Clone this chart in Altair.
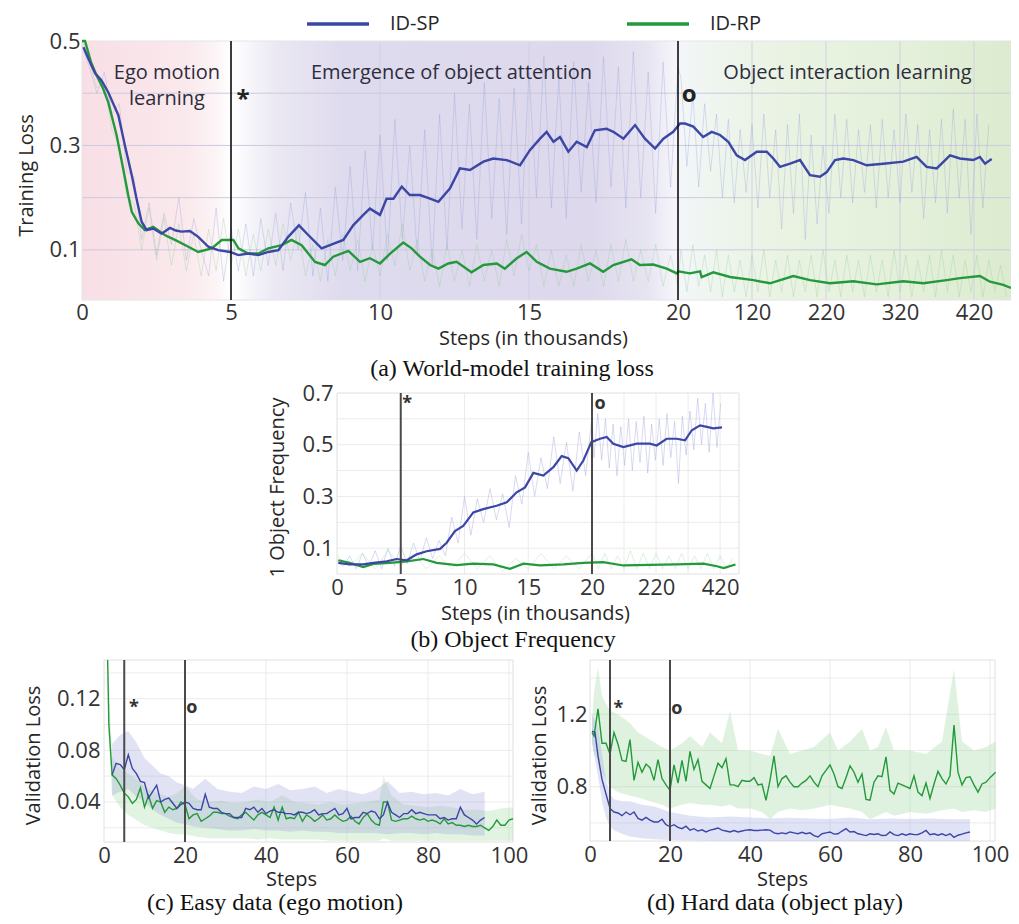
import altair as alt
import pandas as pd

# ------------------------------------------------------------------ data
SERIES = ["ID-SP", "ID-RP"]
PHASE_STEPS = [5, 20]
MARKER_TEXT = ["*", "o"]

# (a) World-model training loss  (steps in thousands)
A_XTICKS = [0, 5, 10, 15, 20, 120, 220, 320, 420]
A_YTICKS = [0.1, 0.3, 0.5]
A_YGRID = [0.1, 0.2, 0.3, 0.4]
A_XGRID = [5, 10, 15, 120, 220, 320, 420]
A_SP_S = [0.05, 0.2, 0.44, 0.65, 0.88, 1.05, 1.22, 1.44, 1.67, 1.83,
          2.0, 2.17, 2.39, 2.67, 2.95, 3.15, 3.34, 3.62, 3.9, 4.24,
          4.57, 4.97, 5.25, 5.58, 5.92, 6.25, 6.59, 6.92, 7.28, 7.6,
          8.04, 8.32, 8.77, 9.1, 9.44, 9.66, 10.0, 10.22, 10.45, 10.73,
          11.0, 11.34, 11.68, 11.96, 12.35, 12.68, 13.02, 13.47, 13.8, 14.25,
          14.7, 15.03, 15.37, 15.59, 15.82, 16.04, 16.32, 16.6, 16.94, 17.21,
          17.6, 17.83, 18.17, 18.56, 18.89, 19.23, 19.51, 19.84, 22.7, 29.5,
          40.7, 54, 65.5, 76.8, 88, 99.3, 110.5, 126.4, 139.9, 148.8,
          157.8, 171.4, 184.9, 198.4, 211.9, 221, 232.2, 243.4, 256.9, 275,
          297.4, 324.5, 342.5, 356, 369.6, 387.6, 401, 419, 428, 434.9, 443.9]
A_SP_V = [0.488, 0.468, 0.438, 0.425, 0.402, 0.38, 0.358, 0.30, 0.243, 0.198,
          0.154, 0.138, 0.141, 0.131, 0.142, 0.137, 0.135, 0.136, 0.125, 0.106,
          0.0995, 0.096, 0.09, 0.093, 0.09, 0.096, 0.0995, 0.125, 0.147, 0.128,
          0.103, 0.109, 0.119, 0.147, 0.167, 0.179, 0.167, 0.198, 0.198, 0.221,
          0.205, 0.205, 0.198, 0.192, 0.218, 0.256, 0.253, 0.269, 0.275, 0.272,
          0.262, 0.291, 0.313, 0.326, 0.307, 0.316, 0.288, 0.307, 0.297, 0.329,
          0.332, 0.326, 0.313, 0.339, 0.313, 0.294, 0.313, 0.326, 0.342, 0.342,
          0.336, 0.316, 0.326, 0.32, 0.307, 0.281, 0.272, 0.288, 0.288, 0.275,
          0.259, 0.265, 0.272, 0.243, 0.240, 0.249, 0.272, 0.275, 0.272, 0.262,
          0.265, 0.269, 0.278, 0.259, 0.256, 0.281, 0.275, 0.272, 0.278, 0.265, 0.274]
A_RP_S = [0.0, 0.1, 0.3, 0.49, 0.7, 0.88, 1.16, 1.38, 1.55, 1.67,
          1.89, 2.11, 2.39, 2.79, 3.12, 3.57, 3.9, 4.35, 4.69, 5.08,
          5.25, 5.58, 5.92, 6.25, 6.7, 7.03, 7.37, 7.82, 8.15, 8.43,
          8.94, 9.33, 9.66, 10.0, 10.34, 10.78, 11.06, 11.34, 11.68, 11.96,
          12.29, 12.57, 13.07, 13.47, 13.92, 14.19, 14.59, 14.92, 15.26, 15.7,
          16.26, 16.6, 17.05, 17.49, 17.83, 18.44, 18.72, 19.17, 19.62, 19.96,
          20.4, 36, 49.7, 52, 67.7, 90.3, 121.8, 144.3, 175.8, 198.4,
          225.4, 256.9, 288.5, 324.5, 351.5, 383, 401, 428, 441.6, 459.6, 470]
A_RP_V = [0.5, 0.5, 0.46, 0.434, 0.41, 0.383, 0.32, 0.256, 0.205, 0.173,
          0.151, 0.138, 0.144, 0.128, 0.119, 0.106, 0.096, 0.103, 0.119, 0.119,
          0.103, 0.093, 0.093, 0.103, 0.109, 0.119, 0.109, 0.077, 0.071, 0.087,
          0.098, 0.077, 0.084, 0.074, 0.093, 0.114, 0.103, 0.087, 0.071, 0.064,
          0.074, 0.077, 0.057, 0.071, 0.074, 0.064, 0.084, 0.096, 0.077, 0.064,
          0.058, 0.064, 0.074, 0.058, 0.071, 0.082, 0.071, 0.072, 0.064, 0.055,
          0.059, 0.055, 0.059, 0.048, 0.057, 0.048, 0.042, 0.036, 0.050, 0.042,
          0.036, 0.040, 0.034, 0.040, 0.036, 0.042, 0.046, 0.050, 0.039, 0.033, 0.027]
A_RAW_S1 = [i * 0.25 for i in range(81)]
A_SP_RAW_S = A_RAW_S1 + list(range(24, 441, 8))
A_SP_RAW_V = [0.49, 0.45, 0.40, 0.44, 0.36, 0.38, 0.25, 0.24, 0.12, 0.19,
              0.09, 0.17, 0.11, 0.20, 0.08, 0.16, 0.10, 0.05, 0.18, 0.04,
              0.14, 0.06, 0.15, 0.05, 0.16, 0.07, 0.17, 0.06, 0.19, 0.10,
              0.21, 0.05, 0.18, 0.04, 0.22, 0.08, 0.26, 0.06, 0.29, 0.10,
              0.32, 0.08, 0.35, 0.12, 0.30, 0.09, 0.33, 0.07, 0.36, 0.10,
              0.40, 0.14, 0.38, 0.12, 0.42, 0.16, 0.39, 0.13, 0.41, 0.15,
              0.44, 0.20, 0.47, 0.18, 0.43, 0.16, 0.46, 0.21, 0.42, 0.19,
              0.47, 0.22, 0.45, 0.18, 0.48, 0.20, 0.44, 0.17, 0.46, 0.22, 0.45,
              0.43, 0.26, 0.40, 0.22, 0.38, 0.25, 0.36, 0.20, 0.35, 0.19,
              0.33, 0.21, 0.34, 0.18, 0.36, 0.20, 0.33, 0.14, 0.34, 0.17,
              0.36, 0.12, 0.32, 0.15, 0.30, 0.17, 0.36, 0.20, 0.35, 0.19,
              0.33, 0.21, 0.34, 0.18, 0.35, 0.20, 0.33, 0.19, 0.36, 0.21,
              0.34, 0.16, 0.33, 0.19, 0.35, 0.17, 0.37, 0.20, 0.35, 0.13,
              0.36, 0.18, 0.34]
A_RP_RAW_S = A_RAW_S1 + list(range(24, 465, 8))
A_RP_RAW_V = [0.50, 0.46, 0.41, 0.42, 0.33, 0.30, 0.20, 0.19, 0.10,
              0.18, 0.08, 0.16, 0.07, 0.15, 0.06, 0.13, 0.05,
              0.14, 0.06, 0.16, 0.07, 0.14, 0.05, 0.13, 0.06,
              0.14, 0.07, 0.15, 0.08, 0.14, 0.05, 0.11, 0.04,
              0.12, 0.05, 0.13, 0.06, 0.12, 0.04, 0.11, 0.05,
              0.13, 0.07, 0.15, 0.06, 0.12, 0.04, 0.10, 0.03,
              0.11, 0.04, 0.10, 0.03, 0.11, 0.04, 0.10, 0.03,
              0.12, 0.05, 0.13, 0.06, 0.11, 0.03, 0.10, 0.03,
              0.09, 0.03, 0.11, 0.04, 0.10, 0.03, 0.11, 0.04,
              0.12, 0.04, 0.10, 0.04, 0.11, 0.03, 0.09, 0.03,
              0.10, 0.02, 0.11, 0.03, 0.09, 0.02, 0.10, 0.01, 0.09, 0.02,
              0.08, 0.01, 0.09, 0.02, 0.10, 0.01, 0.08, 0.02, 0.09, 0.01,
              0.08, 0.02, 0.09, 0.01, 0.10, 0.02, 0.08, 0.01, 0.09, 0.02,
              0.08, 0.01, 0.09, 0.02, 0.08, 0.01, 0.10, 0.02, 0.09, 0.01,
              0.08, 0.02, 0.09, 0.01, 0.10, 0.02, 0.09, 0.01, 0.08, 0.02,
              0.09, 0.01, 0.08, 0.02, 0.07, 0.01]
A_PHASE_START = [0, 5, 20]
A_PHASE_END = [5, 20, 470]
A_PHASE_LABELS = ["Ego motion", "learning", "Emergence of object attention",
                  "Object interaction learning"]
A_PHASE_LABEL_S = [2.85, 2.85, 12.4, 249]
A_PHASE_LABEL_V = [0.438, 0.389, 0.438, 0.438]
A_MARK_S = [5.4, 35]
A_MARK_V = [0.387, 0.397]

# (b) Object frequency
B_XTICKS = [0, 5, 10, 15, 20, 220, 420]
B_YTICKS = [0.1, 0.3, 0.5, 0.7]
B_YGRID = [0.1, 0.2, 0.3, 0.4, 0.5, 0.6]
B_XGRID = [5, 10, 15, 120, 220, 320, 420]
B_SP_S = [0.1, 1.0, 2.06, 2.85, 3.9, 4.68, 5.47, 6.25, 7.03, 8.08,
          8.6, 9.25, 9.9, 10.69, 11.47, 12.52, 13.31, 14.09, 14.75, 15.4,
          16.18, 16.97, 17.62, 18.14, 18.8, 19.32, 19.95, 45, 66, 86.5,
          118, 159.6, 201, 222, 253, 284.7, 310.6, 331.6, 357.5, 378.4, 399, 426]
B_SP_V = [0.043, 0.037, 0.037, 0.043, 0.049, 0.058, 0.053, 0.076, 0.088, 0.097,
          0.121, 0.166, 0.186, 0.238, 0.251, 0.264, 0.277, 0.316, 0.335, 0.391,
          0.381, 0.413, 0.456, 0.448, 0.40, 0.439, 0.51, 0.523, 0.530, 0.504,
          0.491, 0.504, 0.504, 0.497, 0.523, 0.523, 0.517, 0.556, 0.575, 0.569, 0.563, 0.567]
B_RP_S = [0.1, 1.0, 2.06, 2.85, 4.16, 5.47, 6.77, 7.82, 9.39, 10.69, 12.26, 13.57,
          14.62, 15.92, 17.75, 19.32, 55, 118, 201, 285, 368, 410, 431, 468]
B_RP_V = [0.053, 0.043, 0.027, 0.039, 0.043, 0.049, 0.058, 0.043, 0.034, 0.040, 0.037, 0.020,
          0.040, 0.033, 0.037, 0.043, 0.046, 0.033, 0.035, 0.037, 0.040, 0.030, 0.023, 0.037]
B_SP_RAW_S = [i * 0.5 for i in range(41)] + list(range(26, 423, 12))
B_SP_RAW_V = [0.05, 0.03, 0.07, 0.02, 0.08, 0.03, 0.09, 0.02, 0.10, 0.03,
              0.11, 0.04, 0.12, 0.05, 0.14, 0.06, 0.13, 0.07, 0.22, 0.12,
              0.30, 0.15, 0.29, 0.20, 0.33, 0.21, 0.31, 0.18, 0.38, 0.27,
              0.47, 0.30, 0.45, 0.33, 0.53, 0.35, 0.51, 0.32, 0.55, 0.38, 0.61,
              0.45, 0.62, 0.44, 0.60, 0.41, 0.58, 0.38, 0.57, 0.42, 0.60,
              0.40, 0.59, 0.43, 0.61, 0.39, 0.58, 0.44, 0.60, 0.42, 0.62,
              0.45, 0.59, 0.35, 0.61, 0.46, 0.63, 0.48, 0.68, 0.50, 0.66,
              0.47, 0.70, 0.49, 0.66]
B_RP_RAW_S = list(range(0, 21)) + list(range(40, 461, 20))
B_RP_RAW_V = [0.07, 0.03, 0.08, 0.02, 0.09, 0.03, 0.08, 0.02, 0.07, 0.02, 0.08,
              0.02, 0.07, 0.01, 0.06, 0.02, 0.08, 0.02, 0.07, 0.02, 0.08,
              0.02, 0.08, 0.02, 0.07, 0.02, 0.09, 0.02, 0.08, 0.02, 0.08, 0.02,
              0.07, 0.02, 0.08, 0.02, 0.07, 0.02, 0.08, 0.02, 0.07, 0.02, 0.06]
B_MARK_S = [5.5, 45]
B_MARK_V = [0.657, 0.657]

# (c) Easy data (ego motion)
C_XTICKS = [0, 20, 40, 60, 80, 100]
C_YTICKS = [0.04, 0.08, 0.12]
C_YGRID = [0.02, 0.04, 0.06, 0.08, 0.10, 0.12, 0.14]
C_XGRID = [20, 40, 60, 80, 100]
C_RP_S = [0.9, 1.2] + list(range(2, 102))
C_RP_V = [0.15, 0.10,
          0.061, 0.058, 0.053, 0.047, 0.044, 0.039, 0.042, 0.051, 0.036, 0.045,
          0.035, 0.041, 0.040, 0.032, 0.036, 0.034, 0.035, 0.040, 0.038, 0.027,
          0.030, 0.031, 0.025, 0.027, 0.029, 0.032, 0.032, 0.031, 0.031, 0.029,
          0.028, 0.027, 0.030, 0.032, 0.029, 0.026, 0.030, 0.032, 0.030, 0.028,
          0.036, 0.026, 0.036, 0.027, 0.028, 0.027, 0.032, 0.025, 0.030, 0.028,
          0.025, 0.027, 0.030, 0.026, 0.027, 0.030, 0.027, 0.025, 0.026, 0.029,
          0.025, 0.023, 0.028, 0.031, 0.026, 0.023, 0.022, 0.040, 0.040, 0.026,
          0.025, 0.026, 0.027, 0.027, 0.029, 0.027, 0.026, 0.027, 0.025, 0.026,
          0.025, 0.023, 0.027, 0.023, 0.024, 0.022, 0.022, 0.021, 0.022, 0.021,
          0.021, 0.022, 0.020, 0.018, 0.021, 0.026, 0.022, 0.022, 0.026, 0.027]
C_SP_S = list(range(2, 95))
C_SP_V = [0.061, 0.070, 0.069, 0.065, 0.0765, 0.066, 0.062, 0.056, 0.055, 0.043,
          0.048, 0.053, 0.040, 0.042, 0.043, 0.039, 0.035, 0.038, 0.040, 0.039,
          0.035, 0.034, 0.034, 0.046, 0.036, 0.035, 0.035, 0.032, 0.031, 0.031,
          0.028, 0.028, 0.028, 0.035, 0.034, 0.036, 0.032, 0.035, 0.031, 0.033,
          0.034, 0.032, 0.032, 0.031, 0.031, 0.030, 0.032, 0.032, 0.031, 0.032,
          0.034, 0.030, 0.031, 0.031, 0.033, 0.035, 0.030, 0.031, 0.035, 0.027,
          0.028, 0.028, 0.032, 0.031, 0.033, 0.032, 0.027, 0.030, 0.040, 0.032,
          0.030, 0.028, 0.031, 0.031, 0.034, 0.031, 0.032, 0.031, 0.030, 0.030,
          0.030, 0.027, 0.028, 0.026, 0.027, 0.027, 0.036, 0.030, 0.028, 0.026,
          0.023, 0.026, 0.028]
C_SP_BAND_S = [2, 4, 6, 8, 10, 12, 14, 16, 18, 20] + list(range(22, 95, 3))
C_SP_BAND_HI = [0.085, 0.092, 0.095, 0.086, 0.074, 0.068, 0.062, 0.060, 0.055, 0.053,
                0.050, 0.058, 0.050, 0.048, 0.047, 0.052, 0.050, 0.054, 0.049, 0.050,
                0.052, 0.047, 0.050, 0.048, 0.046, 0.049, 0.056, 0.047, 0.048, 0.046,
                0.047, 0.045, 0.050, 0.046, 0.048]
C_SP_BAND_LO = [0.045, 0.048, 0.050, 0.044, 0.040, 0.034, 0.030, 0.027, 0.024, 0.023,
                0.021, 0.020, 0.019, 0.018, 0.018, 0.019, 0.018, 0.018, 0.017, 0.018,
                0.017, 0.017, 0.016, 0.016, 0.016, 0.016, 0.015, 0.016, 0.016, 0.015,
                0.016, 0.015, 0.015, 0.014, 0.014]
C_RP_BAND_S = [1, 2, 4, 6, 8, 10, 12, 14, 16, 18, 20] + list(range(23, 69, 3)) + [69, 71] + list(range(74, 102, 3))
C_RP_BAND_HI = [0.15, 0.075, 0.066, 0.062, 0.058, 0.052, 0.048, 0.046, 0.044, 0.047,
                0.052, 0.042, 0.040, 0.041, 0.039, 0.040, 0.042, 0.040, 0.045, 0.040,
                0.039, 0.038, 0.040, 0.038, 0.039, 0.040, 0.042, 0.060, 0.045, 0.038,
                0.037, 0.036, 0.037, 0.036, 0.034, 0.034, 0.033, 0.035, 0.036]
C_RP_BAND_LO = [0.10, 0.045, 0.036, 0.030, 0.026, 0.022, 0.020, 0.018, 0.016, 0.015,
                0.015, 0.013, 0.012, 0.012, 0.012, 0.012, 0.011, 0.012, 0.011, 0.011,
                0.011, 0.011, 0.010, 0.010, 0.010, 0.010, 0.010, 0.012, 0.010, 0.010,
                0.010, 0.010, 0.010, 0.010, 0.010, 0.010, 0.010, 0.010, 0.010]
C_MARK_S = [7.4, 21.7]
C_MARK_V = [0.113, 0.113]

# (d) Hard data (object play)
D_XTICKS = [0, 20, 40, 60, 80, 100]
D_YTICKS = [0.8, 1.2]
D_YGRID = [0.6, 0.8, 1.0, 1.2, 1.4]
D_XGRID = [20, 40, 60, 80, 100]
D_RP_S = [0.5] + list(range(1, 101)) + [101.4]
D_RP_V = [1.10,
          1.08, 1.23, 1.04, 1.04, 0.98, 1.10, 1.035, 0.945, 0.94, 1.06,
          0.835, 0.935, 0.88, 0.925, 0.905, 0.835, 0.95, 0.845, 0.81, 0.78,
          0.92, 0.82, 0.945, 0.83, 0.995, 0.895, 0.95, 0.83, 0.81, 0.79,
          0.86, 0.93, 0.905, 0.955, 0.81, 0.81, 0.80, 0.835, 0.83, 0.83,
          0.85, 0.81, 0.815, 0.725, 0.835, 0.97, 0.80, 0.845, 0.86, 0.825,
          0.80, 0.80, 0.82, 0.835, 0.86, 0.825, 0.80, 0.86, 0.89, 0.92,
          0.87, 0.80, 0.79, 0.85, 0.915, 0.88, 0.825, 0.87, 0.73, 0.725,
          0.825, 0.86, 0.855, 0.965, 0.78, 0.76, 0.82, 0.81, 0.80, 0.79,
          0.86, 0.77, 0.75, 0.82, 0.735, 0.815, 0.885, 0.845, 0.815, 0.86,
          1.14, 0.88, 0.81, 0.85, 0.855, 0.81, 0.77, 0.815, 0.825, 0.85,
          0.88]
D_SP_S = [0.5, 1.25] + list(range(2, 96))
D_SP_V = [1.107, 1.10,
          0.97, 0.84, 0.76, 0.68, 0.66, 0.655, 0.64, 0.66, 0.645, 0.66,
          0.625, 0.615, 0.63, 0.615, 0.605, 0.605, 0.62, 0.59, 0.58, 0.59,
          0.575, 0.568, 0.582, 0.56, 0.568, 0.555, 0.562, 0.55, 0.56, 0.565,
          0.572, 0.56, 0.555, 0.55, 0.558, 0.55, 0.555, 0.56, 0.562, 0.558,
          0.558, 0.56, 0.562, 0.56, 0.545, 0.54, 0.545, 0.54, 0.55, 0.545,
          0.54, 0.548, 0.54, 0.545, 0.53, 0.522, 0.54, 0.545, 0.55, 0.538,
          0.54, 0.555, 0.568, 0.55, 0.552, 0.54, 0.535, 0.53, 0.54, 0.536,
          0.54, 0.53, 0.532, 0.55, 0.535, 0.53, 0.54, 0.532, 0.54, 0.535,
          0.536, 0.545, 0.558, 0.535, 0.54, 0.532, 0.54, 0.53, 0.54, 0.52,
          0.532, 0.538, 0.545, 0.55]
D_SP_BAND_S = [0.5, 2, 3, 4, 5, 6, 8, 10, 13, 16, 20, 25, 30, 35, 40, 45, 50, 55,
               60, 65, 70, 75, 80, 85, 90, 95]
D_SP_BAND_HI = [1.20, 1.13, 0.98, 0.84, 0.76, 0.73, 0.72, 0.72, 0.70, 0.69,
                0.66, 0.64, 0.63, 0.635, 0.63, 0.625, 0.628, 0.625, 0.622, 0.63,
                0.62, 0.625, 0.622, 0.625, 0.62, 0.62]
D_SP_BAND_LO = [1.04, 0.86, 0.72, 0.63, 0.58, 0.56, 0.54, 0.525, 0.515, 0.51,
                0.505, 0.503, 0.502, 0.501, 0.50, 0.50, 0.50, 0.50, 0.50, 0.50,
                0.50, 0.50, 0.50, 0.50, 0.50, 0.50]
D_RP_BAND_S = [0.5, 1, 2, 3, 5, 7, 10, 12, 15, 18, 20, 23, 25, 28, 30, 33, 35, 37,
               40, 43, 45, 47, 50, 53, 56, 60, 62, 65, 68, 70, 72, 74, 76, 80, 84,
               88, 91, 93, 96, 99, 101.4]
D_RP_BAND_HI = [1.15, 1.32, 1.46, 1.30, 1.22, 1.20, 1.15, 1.10, 1.06, 1.02,
                1.00, 1.04, 1.08, 1.02, 1.10, 1.04, 1.22, 1.00, 1.00, 0.98,
                0.97, 1.12, 0.98, 1.00, 1.02, 1.10, 1.00, 1.05, 1.12, 1.00,
                1.02, 1.13, 1.00, 1.00, 0.98, 1.05, 1.45, 1.05, 1.00, 1.02, 1.05]
D_RP_BAND_LO = [1.05, 0.98, 0.95, 0.88, 0.80, 0.77, 0.75, 0.74, 0.72, 0.70,
                0.68, 0.70, 0.71, 0.70, 0.70, 0.69, 0.70, 0.68, 0.68, 0.66,
                0.62, 0.66, 0.68, 0.67, 0.68, 0.70, 0.69, 0.68, 0.66, 0.62,
                0.64, 0.66, 0.64, 0.66, 0.65, 0.67, 0.68, 0.66, 0.67, 0.66, 0.68]
D_MARK_S = [7.1, 21.7]
D_MARK_V = [1.229, 1.229]

CAPTIONS = ["(a) World-model training loss", "(b) Object Frequency",
            "(c) Easy data (ego motion)", "(d) Hard data (object play)"]

# ------------------------------------------------------------------ style
BLUE = "#3b46a6"
GREEN = "#24993b"
FONT = "Open Sans"
SERIF = "Liberation Serif"
TXT = "#262626"

COLOR = alt.Color(
    "series:N",
    scale=alt.Scale(domain=SERIES, range=[BLUE, GREEN]),
    legend=alt.Legend(title=None, orient="none", legendX=223, legendY=-50,
                      direction="horizontal", symbolType="stroke", symbolSize=3844,
                      symbolStrokeWidth=3.5, labelFont=FONT, labelFontSize=20,
                      labelColor=TXT, labelOffset=19, columnPadding=180, padding=0),
)


def line_df(s, v, name=None):
    d = pd.DataFrame({"s": s, "v": v})
    if name is not None:
        d["series"] = name
    return d


def band_df(s, lo, hi):
    return pd.DataFrame({"s": s, "lo": lo, "hi": hi})


class Panel:
    def __init__(self, xdom, xrange, ydom, yrange, xax, yax):
        self.xs = alt.Scale(domain=xdom, range=xrange, nice=False, zero=False)
        self.ys = alt.Scale(domain=ydom, range=yrange, nice=False, zero=False)
        self.xax, self.yax = xax, yax
        self.x0, self.x1 = xdom[0], xdom[-1]
        self.y0, self.y1 = ydom[0], ydom[-1]

    def X(self, f):
        return alt.X(f, type="quantitative", scale=self.xs, axis=self.xax)

    def Y(self, f):
        return alt.Y(f, type="quantitative", scale=self.ys, axis=self.yax)

    def XD(self, v):
        return alt.XDatum(datum=v, type="quantitative", scale=self.xs, axis=self.xax)

    def YD(self, v):
        return alt.YDatum(datum=v, type="quantitative", scale=self.ys, axis=self.yax)

    def frame(self, color="#e0e0e0"):
        return alt.Chart(pd.DataFrame({"k": [0]})).mark_rect(
            fillOpacity=0, stroke=color, strokeWidth=1).encode(
            x=self.XD(self.x0), x2=alt.X2Datum(datum=self.x1),
            y=self.YD(self.y0), y2=alt.Y2Datum(datum=self.y1))

    def hgrid(self, vals, color, width=1):
        return alt.Chart(pd.DataFrame({"g": vals})).mark_rule(
            color=color, strokeWidth=width).encode(
            y=self.Y("g"), x=self.XD(self.x0), x2=alt.X2Datum(datum=self.x1))

    def vgrid(self, vals, color, width=1):
        return alt.Chart(pd.DataFrame({"g": vals})).mark_rule(
            color=color, strokeWidth=width).encode(
            x=self.X("g"), y=self.YD(self.y0), y2=alt.Y2Datum(datum=self.y1))

    def line(self, df, width, color=None, opacity=1.0):
        if color is None:
            return alt.Chart(df).mark_line(strokeWidth=width, opacity=opacity).encode(
                x=self.X("s"), y=self.Y("v"), color=COLOR)
        return alt.Chart(df).mark_line(strokeWidth=width, color=color, opacity=opacity).encode(
            x=self.X("s"), y=self.Y("v"))

    def band(self, df, color, opacity):
        return alt.Chart(df).mark_area(color=color, opacity=opacity).encode(
            x=self.X("s"), y=self.Y("lo"), y2=alt.Y2("hi"))

    def markers(self, s, v, size, color):
        d = pd.DataFrame({"m": MARKER_TEXT, "s": s, "v": v})
        return alt.Chart(d).mark_text(font=FONT, fontSize=size, color=color,
                                      fontWeight="bold", align="center",
                                      baseline="middle").encode(
            x=self.X("s"), y=self.Y("v"), text="m:N")


def xaxis(vals, offset, title, tx, ty, pad=3):
    return alt.Axis(orient="bottom", offset=offset, values=vals, format="d",
                    labelPadding=pad, title=title, titleX=tx, titleY=ty,
                    titleBaseline="top", titleAlign="center")


def yaxis(vals, fmt, offset, title, tx, ty, pad):
    return alt.Axis(orient="left", offset=offset, values=vals, format=fmt,
                    labelPadding=pad, title=title, titleX=tx, titleY=ty,
                    titleAngle=270, titleBaseline="bottom", titleAlign="center")


# ------------------------------------------------------------------ panel (a)
PA = Panel([0, 20, 470], [0, 596, 929], [0.004, 0.5], [259, 0],
           xaxis(A_XTICKS, -542, "Steps (in thousands)", 451, 28, 2),
           yaxis(A_YTICKS, ".1f", 0, "Training Loss", -46, 134, 2))


def grad_rect(start, end, stops):
    d = pd.DataFrame({"s0": [start], "s1": [end]})
    g = alt.Gradient(gradient="linear", x1=0, x2=1, y1=0, y2=0,
                     stops=[alt.GradientStop(color=c, offset=o) for o, c in stops])
    return alt.Chart(d).mark_rect(fill=g).encode(
        x=PA.X("s0"), x2=alt.X2("s1"), y=PA.YD(PA.y0), y2=alt.Y2Datum(datum=PA.y1))


bg_pink = grad_rect(A_PHASE_START[0], A_PHASE_END[0],
                    [(0, "#f8dfe5"), (0.7, "#fae9ec"), (0.9, "#fcf4f6"), (1, "#ffffff")])
bg_purple = grad_rect(A_PHASE_START[1], A_PHASE_END[1],
                      [(0, "#ffffff"), (0.1, "#ebe8f3"), (0.25, "#dfdbee"), (0.8, "#ddd8ec"),
                       (0.93, "#e7e4f1"), (1, "#f7f7fb")])
bg_green = grad_rect(A_PHASE_START[2], A_PHASE_END[2],
                     [(0, "#f3f6fa"), (0.12, "#eef5ee"), (0.3, "#eaf3e3"), (0.7, "#e4f0da"),
                      (1, "#dcebcf")])

phase_text = alt.Chart(pd.DataFrame({"t": A_PHASE_LABELS, "s": A_PHASE_LABEL_S,
                                     "v": A_PHASE_LABEL_V})).mark_text(
    font=FONT, fontSize=20, color="#2d2d3c", align="center", baseline="middle").encode(
    x=PA.X("s"), y=PA.Y("v"), text="t:N")

phase_rules_a = alt.Chart(pd.DataFrame({"p": PHASE_STEPS})).mark_rule(
    color="#111111", strokeWidth=1.6).encode(
    x=PA.X("p"), y=PA.YD(PA.y0), y2=alt.Y2Datum(datum=PA.y1))

panel_a = alt.layer(
    bg_pink, bg_purple, bg_green,
    PA.hgrid(A_YGRID, "#cdc9de", 1), PA.vgrid(A_XGRID, "#d3d0e2", 1),
    PA.frame("#e4e4ea"),
    PA.line(line_df(A_SP_RAW_S, A_SP_RAW_V), 1, "#8c9ad6", 0.3),
    PA.line(line_df(A_RP_RAW_S, A_RP_RAW_V), 1, "#86c98c", 0.28),
    PA.line(line_df(A_RP_S, A_RP_V, "ID-RP"), 2.4),
    PA.line(line_df(A_SP_S, A_SP_V, "ID-SP"), 2.4),
    phase_rules_a, phase_text,
    PA.markers(A_MARK_S, A_MARK_V, 24, "#222222"),
)

# ------------------------------------------------------------------ panel (b)
PB = Panel([0, 20, 479], [255, 510, 657], [0, 0.7], [533, 352],
           xaxis(B_XTICKS, -268, "Steps (in thousands)", 453, 29),
           yaxis(B_YTICKS, ".1f", -255, "1 Object Frequency", -50, 446, 4))

phase_rules_b = alt.Chart(pd.DataFrame({"p": PHASE_STEPS})).mark_rule(
    color="#4a4a4a", strokeWidth=2).encode(
    x=PB.X("p"), y=PB.YD(PB.y0), y2=alt.Y2Datum(datum=PB.y1))

panel_b = alt.layer(
    PB.hgrid(B_YGRID, "#ebebeb"), PB.vgrid(B_XGRID, "#ebebeb"), PB.frame(),
    PB.line(line_df(B_SP_RAW_S, B_SP_RAW_V), 1, "#a9aee0", 0.45),
    PB.line(line_df(B_RP_RAW_S, B_RP_RAW_V), 1, "#9fd89f", 0.35),
    PB.line(line_df(B_RP_S, B_RP_V, "ID-RP"), 2.2),
    PB.line(line_df(B_SP_S, B_SP_V, "ID-SP"), 2.2),
    phase_rules_b,
    PB.markers(B_MARK_S, B_MARK_V, 18, "#333333"),
)

# ------------------------------------------------------------------ panel (c)
PC = Panel([0, 101], [22, 431], [0.009, 0.15], [801, 619],
           xaxis(C_XTICKS, 0, "Steps", 209, 27),
           yaxis(C_YTICKS, ".2f", -22, "Validation Loss", -61, 714, 4))

phase_rules_c = alt.Chart(pd.DataFrame({"p": PHASE_STEPS})).mark_rule(
    color="#4a4a4a", strokeWidth=2).encode(
    x=PC.X("p"), y=PC.YD(PC.y0), y2=alt.Y2Datum(datum=PC.y1))

panel_c = alt.layer(
    PC.hgrid(C_YGRID, "#ebebeb"), PC.vgrid(C_XGRID, "#ebebeb"), PC.frame(),
    PC.band(band_df(C_RP_BAND_S, C_RP_BAND_LO, C_RP_BAND_HI), "#9dd69d", 0.3),
    PC.band(band_df(C_SP_BAND_S, C_SP_BAND_LO, C_SP_BAND_HI), "#9aa0dc", 0.3),
    PC.line(line_df(C_RP_S, C_RP_V, "ID-RP"), 1.4),
    PC.line(line_df(C_SP_S, C_SP_V, "ID-SP"), 1.4),
    phase_rules_c,
    PC.markers(C_MARK_S, C_MARK_V, 18, "#333333"),
)

# ------------------------------------------------------------------ panel (d)
PD = Panel([0, 101.25], [508, 913], [0.5, 1.5], [800, 619],
           xaxis(D_XTICKS, -1, "Steps", 700, 28),
           yaxis(D_YTICKS, ".1f", -508, "Validation Loss", -41, 714, 3))

phase_rules_d = alt.Chart(pd.DataFrame({"p": PHASE_STEPS})).mark_rule(
    color="#4a4a4a", strokeWidth=2).encode(
    x=PD.X("p"), y=PD.YD(PD.y0), y2=alt.Y2Datum(datum=PD.y1))

panel_d = alt.layer(
    PD.hgrid(D_YGRID, "#ebebeb"), PD.vgrid(D_XGRID, "#ebebeb"), PD.frame(),
    PD.band(band_df(D_RP_BAND_S, D_RP_BAND_LO, D_RP_BAND_HI), "#a3dba3", 0.35),
    PD.band(band_df(D_SP_BAND_S, D_SP_BAND_LO, D_SP_BAND_HI), "#a6abe2", 0.35),
    PD.line(line_df(D_RP_S, D_RP_V, "ID-RP"), 1.4),
    PD.line(line_df(D_SP_S, D_SP_V, "ID-SP"), 1.4),
    phase_rules_d,
    PD.markers(D_MARK_S, D_MARK_V, 18, "#333333"),
)


# ------------------------------------------------------------------ captions
def caption(i, px, py, baseline="middle"):
    return alt.Chart(pd.DataFrame({"c": [CAPTIONS[i]]})).mark_text(
        font=SERIF, fontSize=24, color="#111111", align="center", baseline=baseline).encode(
        text="c:N", x=alt.value(px), y=alt.value(py))


chart = alt.layer(
    panel_a, panel_b, panel_c, panel_d,
    caption(0, 430, 328), caption(1, 431, 599),
    caption(2, 193, 869, "alphabetic"), caption(3, 693, 869, "alphabetic"),
).resolve_scale(
    x="independent", y="independent"
).properties(
    width=929, height=801,
    autosize=alt.AutoSizeParams(type="none"),
    padding={"left": 74, "top": 33, "right": 0, "bottom": 76},
    background="white",
).configure_view(
    stroke="transparent"
).configure_axis(
    grid=False, ticks=False, domain=False, labelFlush=False,
    labelFont=FONT, labelFontSize=22, labelColor="#333333",
    titleFont=FONT, titleFontSize=20, titleFontWeight="normal", titleColor=TXT,
)

chart.save("out.html", embed_options={"renderer": "svg", "actions": False})
